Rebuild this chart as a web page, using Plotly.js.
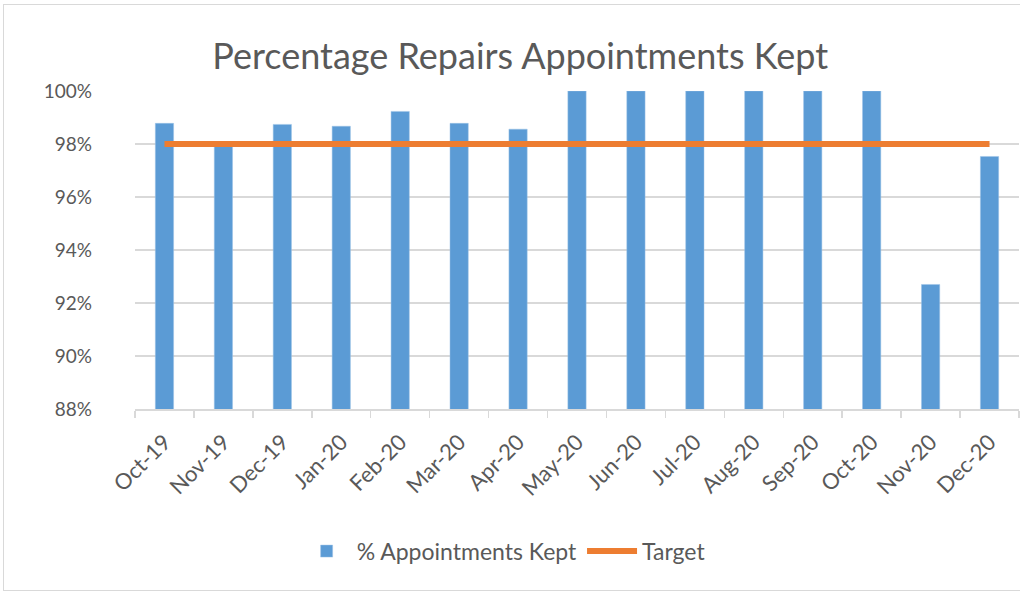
<!DOCTYPE html>
<html>
<head>
<meta charset="utf-8">
<script src="https://cdn.plot.ly/plotly-3.0.1.min.js"></script>
<style>
html,body{margin:0;padding:0;background:#fff;}
#wrap{position:relative;width:1020px;height:595px;}
#chart{width:1020px;height:595px;}
#frame{position:absolute;left:3px;top:4px;width:1030px;height:585px;border:1px solid #d9d9d9;pointer-events:none;}
</style>
</head>
<body>
<div id="wrap"><div id="chart"></div><div id="frame"></div></div>
<script>
const months = ["Oct-19","Nov-19","Dec-19","Jan-20","Feb-20","Mar-20","Apr-20","May-20","Jun-20","Jul-20","Aug-20","Sep-20","Oct-20","Nov-20","Dec-20"];
const kept = [98.78, 97.95, 98.74, 98.67, 99.23, 98.78, 98.56, 100, 100, 100, 100, 100, 100, 92.7, 97.53];
const target = [98, 98, 98, 98, 98, 98, 98, 98, 98, 98, 98, 98, 98, 98, 98];
const yTicks = [88, 90, 92, 94, 96, 98, 100];

const font = "Lato, 'Liberation Sans', sans-serif";
const traces = [
  {type:"bar", x:months, y:kept, name:"% Appointments Kept", base:0,
   marker:{color:"#5B9BD5", line:{color:"#9DC3E6", width:0.5}}},
  {type:"scatter", mode:"lines", x:months, y:target, name:"Target",
   line:{color:"#ED7D31", width:6}}
];
const layout = {
  width:1020, height:595,
  margin:{l:135, r:1, t:91, b:186},
  paper_bgcolor:"#fff", plot_bgcolor:"#fff",
  font:{family:font, color:"#595959", size:18},
  title:{text:"Percentage Repairs Appointments Kept", x:0.51, xanchor:"center", y:0.905, yanchor:"middle",
         font:{family:font, size:36, color:"#595959"}},
  bargap:0.69,
  showlegend:true,
  legend:{orientation:"h", x:0.417, xanchor:"center", y:-0.447, yanchor:"middle",
          font:{family:font, size:23, color:"#595959"}, itemwidth:50, traceorder:"normal"},
  xaxis:{type:"category", tickangle:-45, showgrid:false, showline:true, linecolor:"#d9d9d9", linewidth:1.5,
         ticks:"outside", tickson:"boundaries", ticklen:7, tickcolor:"#d9d9d9", tickwidth:1.5,
         ticklabelstandoff:10,
         tickfont:{family:font, size:22, color:"#595959"}},
  yaxis:{range:[88,100], tickvals:yTicks, ticktext:yTicks.map(v=>v+"%"), showgrid:true, gridcolor:"#d9d9d9", gridwidth:1.5,
         zeroline:false, showline:false, ticks:"", tickfont:{family:font, size:19, color:"#595959"}, ticklabelstandoff:42}
};
Plotly.newPlot("chart", traces, layout, {displayModeBar:false, staticPlot:true});
</script>
</body>
</html>
